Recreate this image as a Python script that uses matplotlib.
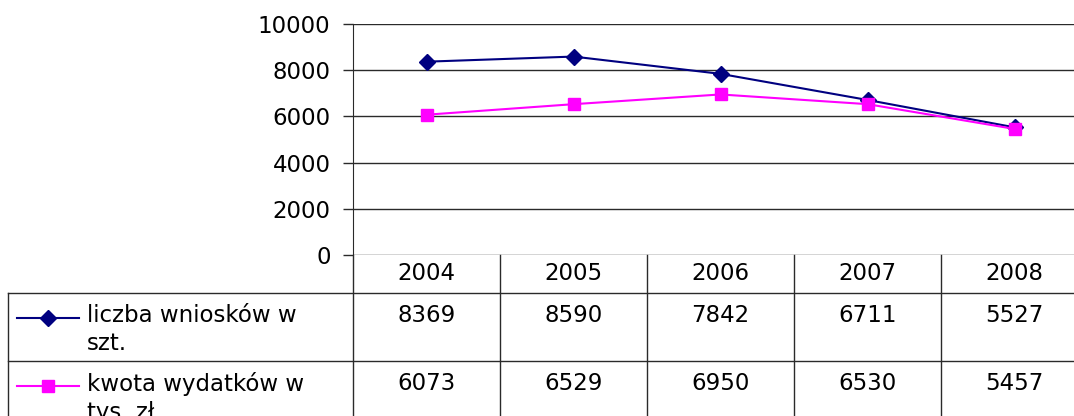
import matplotlib
matplotlib.use('Agg')
from matplotlib import pyplot as plt
from matplotlib import transforms

years = ['2004', '2005', '2006', '2007', '2008']
wnioski = [8369, 8590, 7842, 6711, 5527]
wydatki = [6073, 6529, 6950, 6530, 5457]
labels = ['liczba wniosków w\nszt.', 'kwota wydatków w\ntys. zł']
y_ticks = [0, 2000, 4000, 6000, 8000, 10000]

plt.rcParams['font.family'] = ['DejaVu Sans']
FS = 16.5
W, H = 1074, 416

fig = plt.figure(figsize=(W / 100, H / 100), dpi=100)
# plot area in pixels: x 353..1088 (runs past the right edge), y 24..255
ax = fig.add_axes([353 / W, (H - 255) / H, (1088 - 353) / W, (255 - 24) / H])

x = list(range(len(years)))
ax.plot(x, wnioski, color='#000080', lw=1.5, marker='D', ms=8, label=labels[0])
ax.plot(x, wydatki, color='#FF00FF', lw=1.5, marker='s', ms=8.5, label=labels[1])

ax.set_xlim(-0.5, len(years) - 0.5)
ax.set_ylim(0, 10000)
ax.set_yticks(y_ticks)
ax.set_xticks([])
ax.yaxis.grid(True, color='#2a2a2a', lw=1)
ax.set_axisbelow(True)
for s in ['top', 'right', 'bottom']:
    ax.spines[s].set_visible(False)
ax.spines['left'].set_color('#2a2a2a')
ax.tick_params(axis='y', length=7.2, width=1, color='#2a2a2a', labelsize=FS, pad=9)

# data table under the plot
tr = transforms.blended_transform_factory(ax.transData, fig.transFigure)
ft = fig.transFigure
y0 = (H - 255) / H
y1 = (H - 293) / H
y2 = (H - 361) / H
lc = '#2a2a2a'
for i in range(len(years) + 1):
    ax.plot([i - 0.5, i - 0.5], [0, y0], transform=tr, color=lc, lw=1, clip_on=False)
fig.add_artist(plt.Line2D([8 / W, 1], [y1, y1], transform=ft, color=lc, lw=1))
fig.add_artist(plt.Line2D([8 / W, 1], [y2, y2], transform=ft, color=lc, lw=1))
fig.add_artist(plt.Line2D([8 / W, 8 / W], [0, y1], transform=ft, color=lc, lw=1))

for i, yr in enumerate(years):
    ax.text(i, (H - 273) / H, yr, transform=tr, ha='center', va='center', fontsize=FS)

series = [(wnioski, '#000080', 'D'), (wydatki, '#FF00FF', 's')]
row_tops = [293, 361]
for (vals, col, mk), lab, top in zip(series, labels, row_tops):
    for i, v in enumerate(vals):
        ax.text(i, (H - top - 11) / H, str(v), transform=tr, ha='center', va='top', fontsize=FS)
    ly = (H - top - 25) / H
    fig.add_artist(plt.Line2D([17 / W, 79 / W], [ly, ly], transform=ft, color=col, lw=1.5))
    fig.add_artist(plt.Line2D([48 / W], [ly], transform=ft, color=col, marker=mk, ms=8, lw=0))
    fig.text(87 / W, (H - top - 11) / H, lab, ha='left', va='top', fontsize=FS, linespacing=1.25)

fig.savefig('out.png', dpi=100)
